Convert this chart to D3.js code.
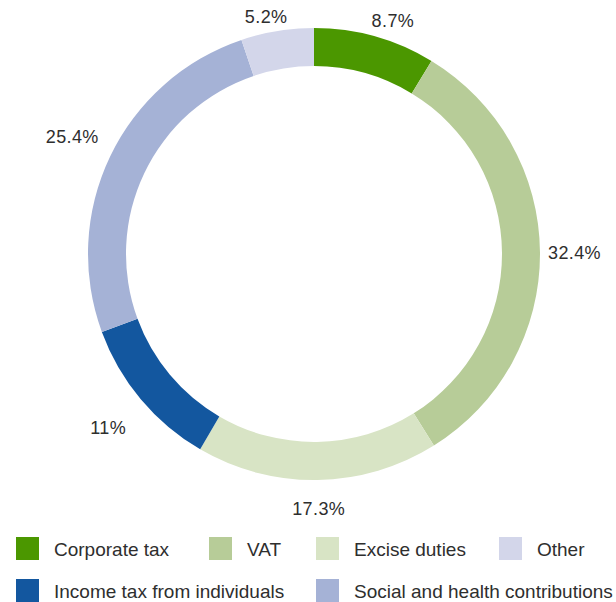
<!DOCTYPE html>
<html>
<head>
<meta charset="utf-8">
<script src="https://cdn.jsdelivr.net/npm/d3@7"></script>
<style>
  body { margin: 0; background: #fff; }
  text { font-family: "Liberation Sans", Arial, sans-serif; fill: #2e2e2e; }
</style>
</head>
<body>
<div id="chart"></div>
<script>
// slices in clockwise order from 12 o'clock
const categories = ["Corporate tax", "VAT", "Excise duties", "Income tax from individuals", "Social and health contributions", "Other"];
const shares = [8.7, 32.4, 17.3, 11, 25.4, 5.2];
const labels = ["8.7%", "32.4%", "17.3%", "11%", "25.4%", "5.2%"];
const colors = ["#4b9700", "#b7cc98", "#d8e4c5", "#13579f", "#a5b2d6", "#d3d6ea"];
// legend order as shown under the chart
const legendRows = [
  ["Corporate tax", "VAT", "Excise duties", "Other"],
  ["Income tax from individuals", "Social and health contributions"]
];

const width = 616, height = 602;
const cx = 314, cy = 254;
const outerR = 226, innerR = 188;

const svg = d3.select("#chart").append("svg")
  .attr("width", width)
  .attr("height", height);

const pie = d3.pie().sort(null).value(d => d)(shares);
const arc = d3.arc().innerRadius(innerR).outerRadius(outerR);

const g = svg.append("g").attr("transform", `translate(${cx},${cy})`);

g.selectAll("path")
  .data(pie)
  .enter().append("path")
  .attr("d", arc)
  .attr("fill", (d, i) => colors[i]);

// percentage labels outside the ring (slightly elliptical placement)
g.selectAll("text.lbl")
  .data(pie)
  .enter().append("text")
  .attr("class", "lbl")
  .each(function(d, i) {
    const a = (d.startAngle + d.endAngle) / 2;
    const s = Math.sin(a), c = Math.cos(a);
    const t = d3.select(this).text(labels[i])
      .style("font-size", "18px")
      .style("letter-spacing", "0.4px");
    const w = this.getComputedTextLength();
    const h = 16;
    const rx = 234 + 40 * c * c;
    const ry = 232 + 40 * s * s + (c < 0 ? 14 * c * c : 0);
    t.attr("x", rx * s + s * w / 2)
      .attr("y", -ry * c - c * h / 2 + 1)
      .attr("text-anchor", "middle")
      .attr("dominant-baseline", "central");
  });

// legend
const colX = [16, 209, 316, 499];
const rowY = [548.5, 590.5];
const sw = 23;
legendRows.forEach((row, r) => {
  row.forEach((name, k) => {
    const col = r === 0 ? k : (k === 0 ? 0 : 2);
    const item = svg.append("g")
      .attr("transform", `translate(${colX[col]},${rowY[r]})`);
    item.append("rect")
      .attr("x", 0).attr("y", -sw / 2)
      .attr("width", sw).attr("height", sw)
      .attr("fill", colors[categories.indexOf(name)]);
    item.append("text")
      .attr("x", 38).attr("y", 1)
      .attr("dominant-baseline", "central")
      .style("font-size", "19px")
      .text(name);
  });
});
</script>
</body>
</html>
